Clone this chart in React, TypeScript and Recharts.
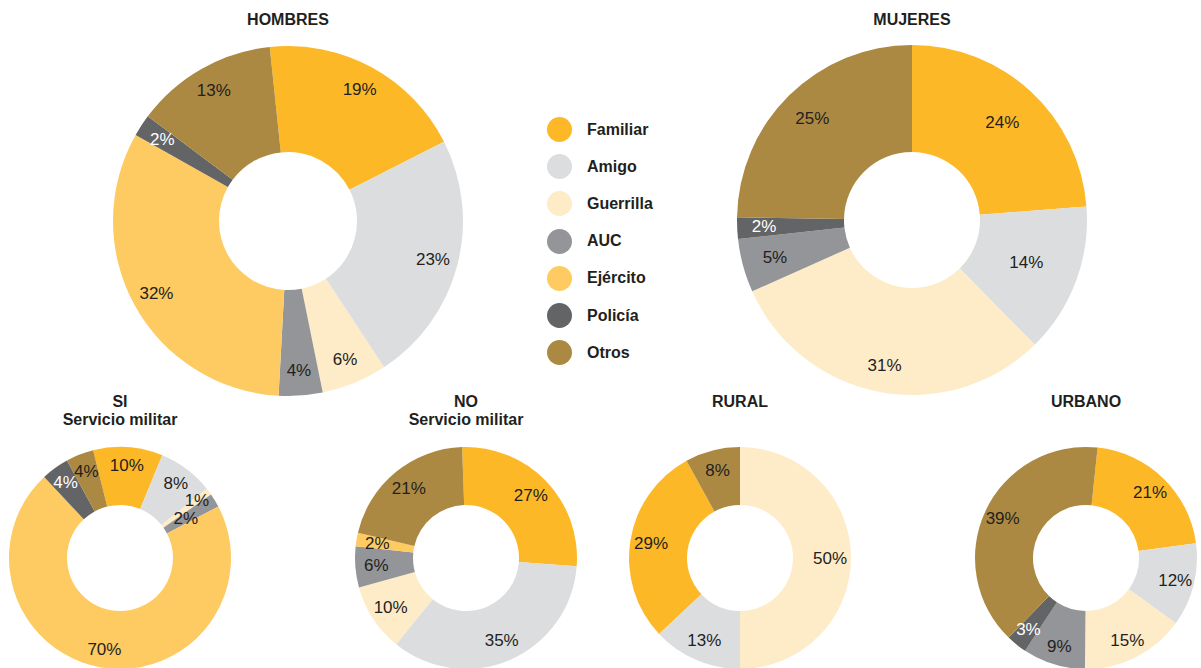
import React from 'react';
import { PieChart, Pie, Cell } from 'recharts';

const categories = ['Familiar', 'Amigo', 'Guerrilla', 'AUC', 'Ejército', 'Policía', 'Otros'];
const colors = ['#FDB827', '#DCDDDF', '#FEEBC8', '#939598', '#FECA62', '#636466', '#AC8942'];

// percentages per category, same order as categories (0 = not shown)
const hombres = [19, 23, 6, 4, 32, 2, 13];
const mujeres = [24, 14, 31, 5, 0, 2, 25];
const siServicio = [10, 8, 1, 2, 70, 4, 4];
const noServicio = [27, 35, 10, 6, 2, 0, 21];
const rural = [29, 13, 50, 0, 0, 0, 8];
const urbano = [21, 12, 15, 9, 0, 3, 39];

const FONT = '"Liberation Sans", Arial, sans-serif';
const TEXT = '#231f20';

const toData = (values: number[]) =>
  values
    .map((v, i) => ({ name: categories[i], value: v, color: colors[i] }))
    .filter((d) => d.value > 0);

interface DonutSpec {
  key: string;
  title: string[];
  values: number[];
  cx: number;
  cy: number;
  inner: number;
  outer: number;
  start: number;
  end: number;
  labelR: number;
  labelRFor?: Record<string, number>;
}

const donuts: DonutSpec[] = [
  { key: 'h', title: ['HOMBRES'], values: hombres, cx: 288, cy: 221, inner: 69, outer: 175, start: 96, end: -264, labelR: 150 },
  { key: 'm', title: ['MUJERES'], values: mujeres, cx: 912, cy: 220, inner: 68, outer: 175, start: 90, end: -270, labelR: 142, labelRFor: { Familiar: 133, Amigo: 122, Guerrilla: 148, 'Policía': 148 } },
  { key: 'si', title: ['SI', 'Servicio militar'], values: siServicio, cx: 120, cy: 558, inner: 53, outer: 111, start: 104, end: -256, labelR: 93, labelRFor: { Guerrilla: 96, AUC: 77 } },
  { key: 'no', title: ['NO', 'Servicio militar'], values: noServicio, cx: 466, cy: 558, inner: 53, outer: 111, start: 92, end: -268, labelR: 90 },
  { key: 'ru', title: ['RURAL'], values: rural, cx: 740, cy: 558, inner: 53, outer: 111, start: 118.8, end: 478.8, labelR: 90 },
  { key: 'ur', title: ['URBANO'], values: urbano, cx: 1086, cy: 558, inner: 53, outer: 111, start: 84, end: -276, labelR: 92 },
];

const RAD = Math.PI / 180;

const makeLabel = (spec: DonutSpec) => (props: any) => {
  const { cx, cy, midAngle, value, payload } = props;
  const name = payload ? payload.name : '';
  const r = (spec.labelRFor && spec.labelRFor[name]) || spec.labelR;
  const x = cx + r * Math.cos(-midAngle * RAD);
  const y = cy + r * Math.sin(-midAngle * RAD);
  const fill = name === 'Policía' ? '#ffffff' : TEXT;
  return (
    <text x={x} y={y} fill={fill} fontSize={17} fontFamily={FONT} textAnchor="middle" dominantBaseline="central">
      {`${value}%`}
    </text>
  );
};

export default function App() {
  return (
    <div style={{ position: 'absolute', left: 0, top: 0, width: 1201, height: 668, background: '#fff', overflow: 'hidden', fontFamily: FONT }}>
      <PieChart
        width={1201}
        height={668}
        margin={{ top: 0, right: 0, bottom: 0, left: 0 }}
        style={{ position: 'absolute', left: 0, top: 0 }}
      >
        {donuts.map((d) => (
          <Pie
            key={d.key}
            data={toData(d.values)}
            dataKey="value"
            nameKey="name"
            cx={d.cx}
            cy={d.cy}
            innerRadius={d.inner}
            outerRadius={d.outer}
            startAngle={d.start}
            endAngle={d.end}
            stroke="none"
            label={makeLabel(d)}
            labelLine={false}
            isAnimationActive={false}
          >
            {toData(d.values).map((e) => (
              <Cell key={e.name} fill={e.color} />
            ))}
          </Pie>
        ))}
      </PieChart>

      {donuts.map((d) => (
        <div
          key={d.key + '-t'}
          style={{
            position: 'absolute',
            left: d.cx - 120,
            width: 240,
            top: d.key === 'h' || d.key === 'm' ? 11 : 393,
            textAlign: 'center',
            fontWeight: 'bold',
            fontSize: 16,
            lineHeight: '18px',
            color: TEXT,
          }}
        >
          {d.title.map((t) => (
            <div key={t}>{t}</div>
          ))}
        </div>
      ))}

      <div style={{ position: 'absolute', left: 547, top: 111 }}>
        {categories.map((c, i) => (
          <div key={c} style={{ display: 'flex', alignItems: 'center', height: 37.2 }}>
            <div style={{ width: 25, height: 25, borderRadius: '50%', background: colors[i] }} />
            <div style={{ marginLeft: 15, fontSize: 16, fontWeight: 'bold', color: TEXT }}>{c}</div>
          </div>
        ))}
      </div>
    </div>
  );
}
